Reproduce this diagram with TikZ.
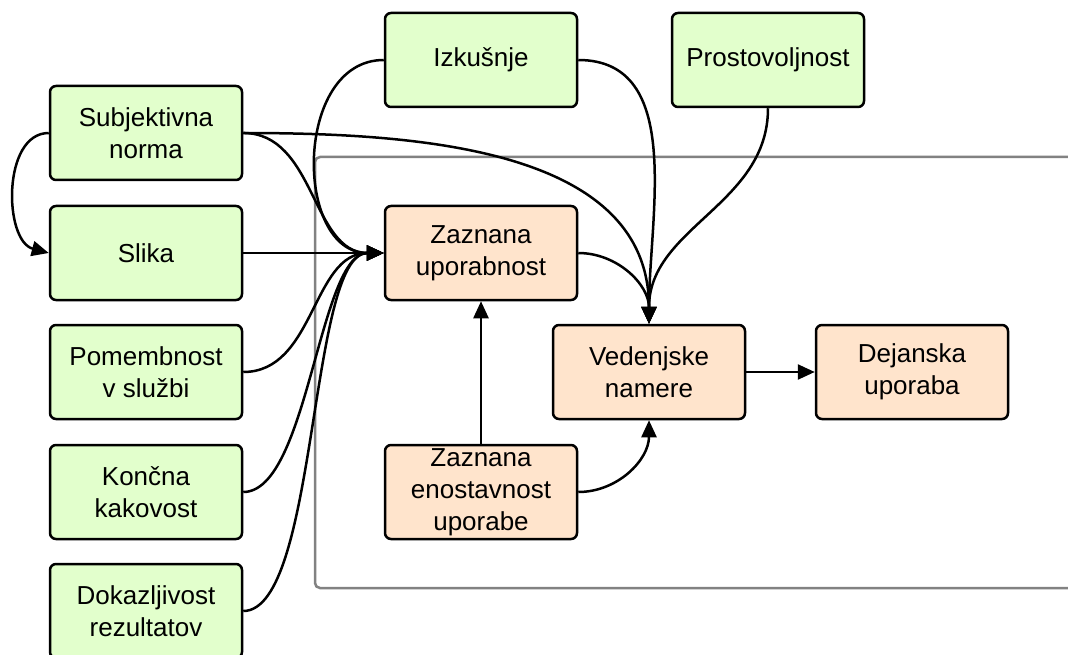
\documentclass[tikz,border=0pt]{standalone}
\usepackage{fontspec}
\setmainfont{Liberation Sans}
\usetikzlibrary{arrows.meta}
\definecolor{boxgreen}{RGB}{226,255,204}
\definecolor{boxorange}{RGB}{255,228,204}
\definecolor{framegray}{RGB}{130,130,130}
\tikzset{
  box/.style={draw=black, line width=2.5pt, rounded corners=6pt,
    minimum width=192pt, minimum height=94pt, align=center,
    font=\fontsize{26}{32}\selectfont, inner sep=2pt},
  gbox/.style={box, fill=boxgreen},
  obox/.style={box, fill=boxorange},
  link/.style={draw=black, line width=2.5pt,
    -{Triangle[length=17pt,width=15pt]}},
}
\begin{document}
\begin{tikzpicture}[x=1pt,y=-1pt]
\useasboundingbox (0,0) rectangle (1068,655);
\clip (0,0) rectangle (1068,655);
\fill[white] (0,0) rectangle (1068,655);

% system frame
\draw[framegray, line width=2.5pt, rounded corners=5pt] (315,157) rectangle (1090,588);

% external factors
\node[gbox] (sn) at (146,133) {Subjektivna\\norma};
\node[gbox] (sl) at (146,253) {Slika};
\node[gbox] (pm) at (146,372) {Pomembnost\\v službi};
\node[gbox] (kk) at (146,492) {Končna\\kakovost};
\node[gbox] (dr) at (146,611) {Dokazljivost\\rezultatov};
\node[gbox] (iz) at (481,60) {Izkušnje};
\node[gbox] (pr) at (768,60) {Prostovoljnost};

% core model
\node[obox] (zu) at (481,253) {Zaznana\\uporabnost};
\node[obox] (ze) at (481,492) {Zaznana\\enostavnost\\uporabe};
\node[obox] (vn) at (649,372) {Vedenjske\\namere};
\node[obox] (du) at (912,372) {Dejanska\\uporaba};

% connectors
\draw[link] (sn.west) to[out=180,in=165] (sl.west);
\draw[link] (sn.east) to[out=0,in=180] (zu.west);
\draw[link] (sn.east) to[out=0,in=90] (vn.north);
\draw[link] (sl.east) -- (zu.west);
\draw[link] (pm.east) to[out=0,in=180] (zu.west);
\draw[link] (kk.east) to[out=0,in=180,looseness=0.6] (zu.west);
\draw[link] (dr.east) to[out=0,in=180,looseness=0.5] (zu.west);
\draw[link] (iz.west) to[out=180,in=180,looseness=1.2] (zu.west);
\draw[link] (iz.east) to[out=0,in=90] (vn.north);
\draw[link] (pr.south) to[out=-90,in=90] (vn.north);
\draw[link] (zu.east) to[out=0,in=90] (vn.north);
\draw[link] (ze.north) -- (zu.south);
\draw[link] (ze.east) to[out=0,in=-90] (vn.south);
\draw[link] (vn.east) -- (du.west);
\end{tikzpicture}
\end{document}
